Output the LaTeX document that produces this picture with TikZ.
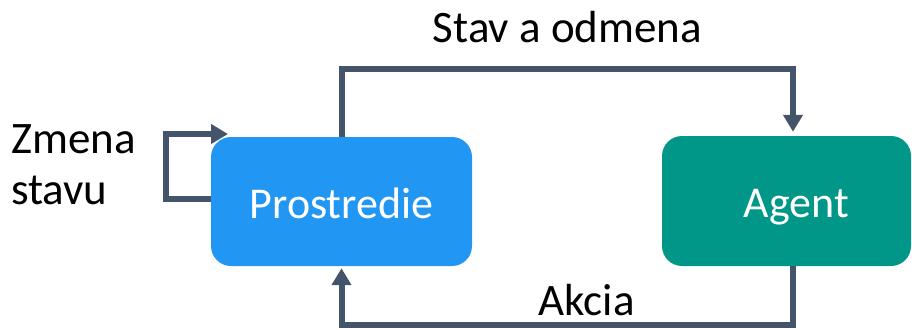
\documentclass[tikz,border=0pt]{standalone}
\usepackage{fontspec}
\setmainfont{Carlito}
\usetikzlibrary{arrows.meta}
\definecolor{envblue}{HTML}{2196F3}
\definecolor{agteal}{HTML}{009688}
\definecolor{lineslate}{HTML}{44546A}
\tikzset{
  boxstyle/.style={draw=none, rounded corners=20pt, text=white, font=\fontsize{44}{52}\selectfont, inner sep=0pt, text height=33pt, text depth=0pt},
  conn/.style={draw=lineslate, line width=6pt, -{Triangle[width=19pt,length=17pt]}},
  lbl/.style={font=\fontsize{45}{51}\selectfont, inner sep=0pt, text=black}
}
\begin{document}
\begin{tikzpicture}[x=1pt,y=-1pt]
\useasboundingbox (0,0) rectangle (912,329);
\node[boxstyle, fill=envblue, minimum width=261pt, minimum height=129pt] (P) at (341.5,201.5) {Prostredie};
\node[boxstyle, fill=agteal, minimum width=249pt, minimum height=130pt] (A) at (786.5,201) {\hspace*{20pt}Agent};
\coordinate (loopend) at (228,134);
\node[lbl, anchor=base] (top) at (567.5,43) {Stav a odmena};
\node[lbl, anchor=base] (akcia) at (586.5,315) {Akcia};
\node[lbl, anchor=base west, align=left] (zmena) at (11,204) {Zmena\\stavu};
\draw[conn, shorten >=4pt] (P.north) |- (793,69) -- ([xshift=6.5pt]A.north);
\draw[conn, shorten >=2pt] ([xshift=6.5pt]A.south) -- ++(0,59) -| (P.south);
\draw[conn] ([yshift=2.5pt]P.west) -- ++(-45,0) |- (loopend);
\end{tikzpicture}
\end{document}
